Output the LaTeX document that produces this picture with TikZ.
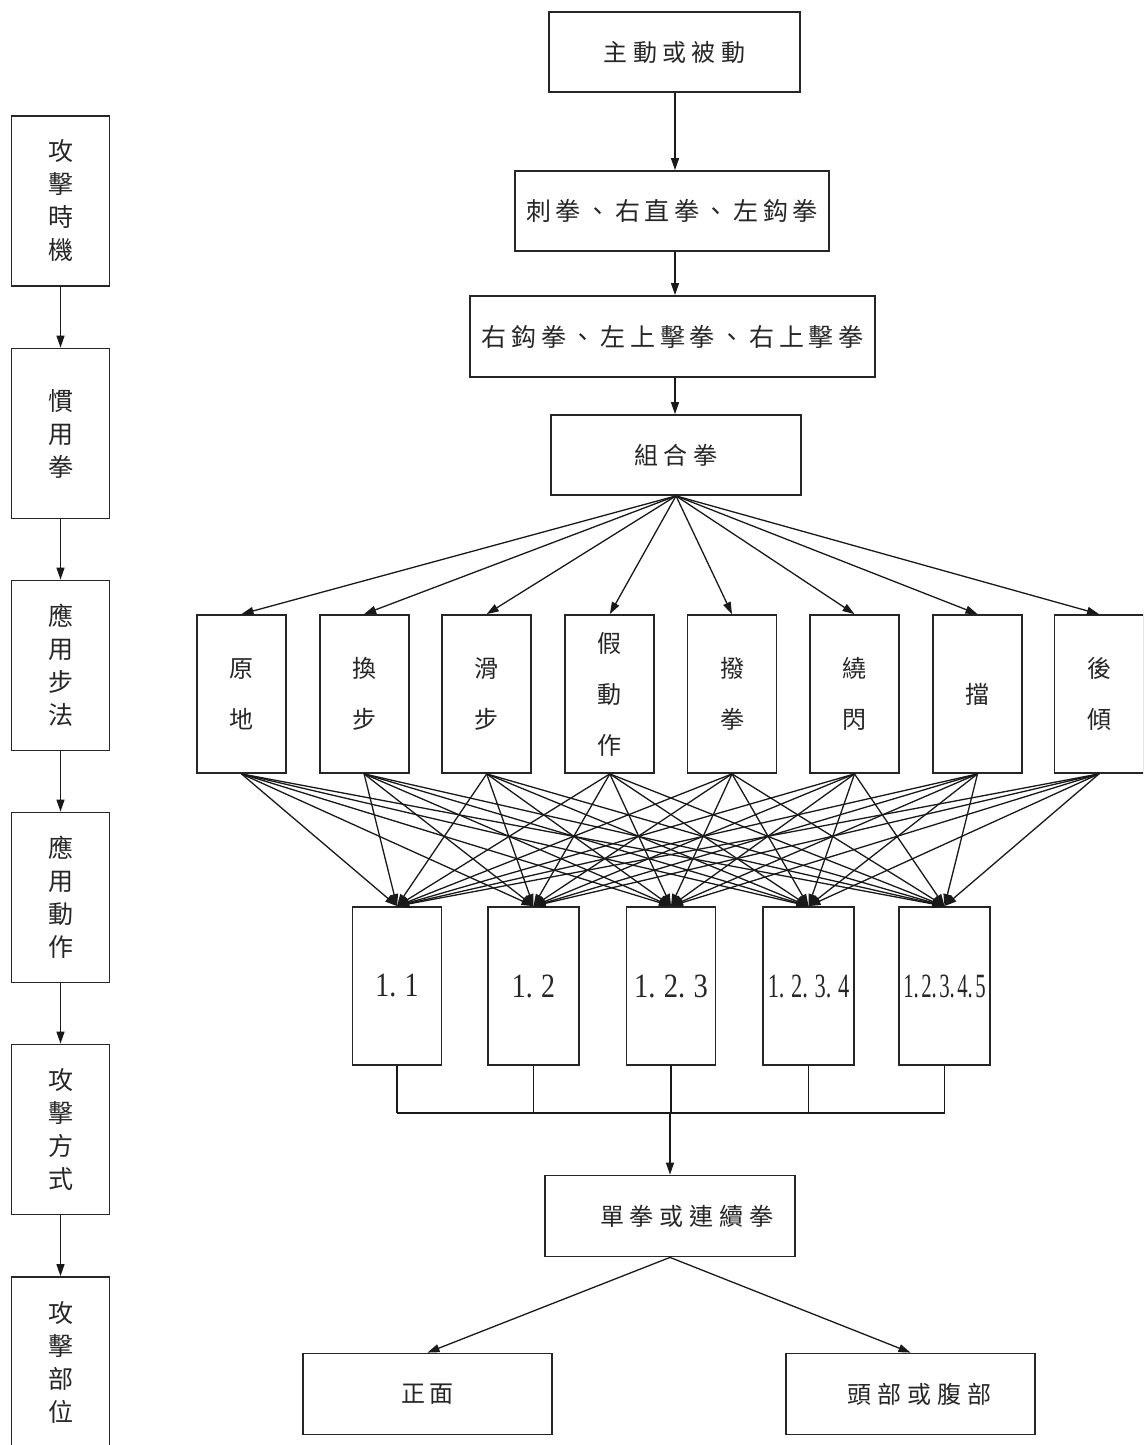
\documentclass[tikz,border=0pt]{standalone}
\usepackage{fontspec}
\usepackage{graphicx}
\setmainfont{Liberation Serif}
\newfontfamily\cjk{Noto Sans CJK TC}
\usetikzlibrary{arrows.meta}

% evenly pitched CJK run: \spaced{pitch}{characters}, one fixed cell per character
\newcommand\spaced[2]{\def\cpitch{#1}\spacedA#2\relax}
\def\spacedA#1#2{\makebox[\cpitch][c]{#1}\ifx#2\relax\else\expandafter\spacedA\expandafter#2\fi}

\tikzset{
  box/.style={draw=black!85, line width=1.8pt, inner sep=0pt, align=center,
    text=black!85, font=\cjk\fontsize{24}{30}\selectfont},
  side/.style={box, minimum width=98pt, minimum height=170pt,
    font=\cjk\fontsize{25}{33}\selectfont},
  tall/.style={box, minimum width=89pt, minimum height=158pt,
    font=\cjk\fontsize{24}{51}\selectfont},
  numbox/.style={box, minimum width=89pt, minimum height=158pt,
    font=\fontsize{34}{40}\selectfont},
  wide/.style={box, minimum height=80pt},
  big/.style={font=\cjk\fontsize{25}{30}\selectfont},
  link/.style={draw=black!90, line width=1.3pt, -{Triangle[length=12pt,width=8pt]}},
  plain/.style={draw=black!90, line width=1.3pt}
}

\begin{document}
\begin{tikzpicture}[x=1pt,y=-1pt]
\useasboundingbox (0,0) rectangle (1143,1445);
\fill[white] (0,0) rectangle (1143,1445);
\clip (0,0) rectangle (1143,1445);

% left column
\node[side] (s1) at (60.5,201)    {攻\\擊\\時\\機};
\node[side] (s2) at (60.5,433.5)  {慣\\用\\拳};
\node[side] (s3) at (60.5,665.5)  {應\\用\\步\\法};
\node[side] (s4) at (60.5,897.5)  {應\\用\\動\\作};
\node[side] (s5) at (60.5,1129.5) {攻\\擊\\方\\式};
\node[side] (s6) at (60.5,1362)   {攻\\擊\\部\\位};
\foreach \a/\b in {s1/s2,s2/s3,s3/s4,s4/s5,s5/s6}
  \draw[link] (\a.south) -- (\b.north);

% main chain
\node[wide, minimum width=251pt] (n1) at (674.5,52) {\spaced{29.4pt}{主動或被動}};
\node[wide, big, minimum width=314pt] (n2) at (672,211) {\spaced{29.6pt}{刺拳、右直拳、左鈎拳}};
\node[wide, big, minimum width=405pt, minimum height=81pt] (n3) at (672.5,336.5) {\spaced{29.75pt}{右鈎拳、左上擊拳、右上擊拳}};
\node[wide, minimum width=250pt] (n4) at (676,455) {\spaced{29.3pt}{組合拳}};

\draw[link] (n1.south -| 675,0) -- (675,0 |- n2.north);
\draw[link] (n2.south -| 675,0) -- (675,0 |- n3.north);
\draw[link] (n3.south -| 675,0) -- (675,0 |- n4.north);

% techniques
\node[tall] (t1) at (241.5,694)  {原\\地};
\node[tall] (t2) at (364.1,694)  {換\\步};
\node[tall] (t3) at (486.7,694)  {滑\\步};
\node[tall] (t4) at (609.8,694)  {假\\動\\作};
\node[tall] (t5) at (732,694)    {撥\\拳};
\node[tall] (t6) at (854.5,694)  {繞\\閃};
\node[tall] (t7) at (977.5,694)  {擋};
\node[tall] (t8) at (1099,694)   {後\\傾};
\foreach \i in {1,...,8}
  \draw[link] (n4.south) -- (t\i.north);

% punch counts
\node[numbox] (m1) at (397,986)   {\scalebox{0.82}[1]{1.\hspace{10pt}1}};
\node[numbox, minimum width=91pt] (m2) at (533.5,986) {\scalebox{0.82}[1]{1.\hspace{10pt}2}};
\node[numbox] (m3) at (671,986)   {\scalebox{0.84}[1]{1.\hspace{10pt}2.\hspace{10pt}3}};
\node[numbox, minimum width=91pt] (m4) at (808.5,986) {\scalebox{0.66}[1]{1.\hspace{10pt}2.\hspace{10pt}3.\hspace{10pt}4}};
\node[numbox, minimum width=91pt] (m5) at (944.5,986) {\scalebox{0.61}[1]{1.\hspace{4pt}2.\hspace{4pt}3.\hspace{4pt}4.\hspace{4pt}5}};
\foreach \i in {1,...,8}
  \foreach \j in {1,...,5}
    \draw[link] (t\i.south) -- (m\j.north);

% collecting bus
\coordinate (bus) at (670,1113);
\foreach \j in {1,...,5}
  \draw[plain] (m\j.south) -- (m\j.south |- bus);
\draw[plain] (m1.south |- bus) -- (m5.south |- bus);

% outcome
\node[wide, minimum width=250pt, minimum height=81pt] (u) at (670,1216) {\hspace*{34pt}\spaced{30pt}{單拳或連續拳}};
\draw[link] (u.north |- bus) -- (u.north);

\node[wide, minimum width=249pt, minimum height=81pt] (f1) at (427.5,1394) {\spaced{29pt}{正面}};
\node[wide, minimum width=249pt, minimum height=81pt] (f2) at (910.5,1394) {\hspace*{18pt}\spaced{30pt}{頭部或腹部}};
\draw[link] (u.south) -- (f1.north);
\draw[link] (u.south) -- (f2.north);
\end{tikzpicture}
\end{document}
